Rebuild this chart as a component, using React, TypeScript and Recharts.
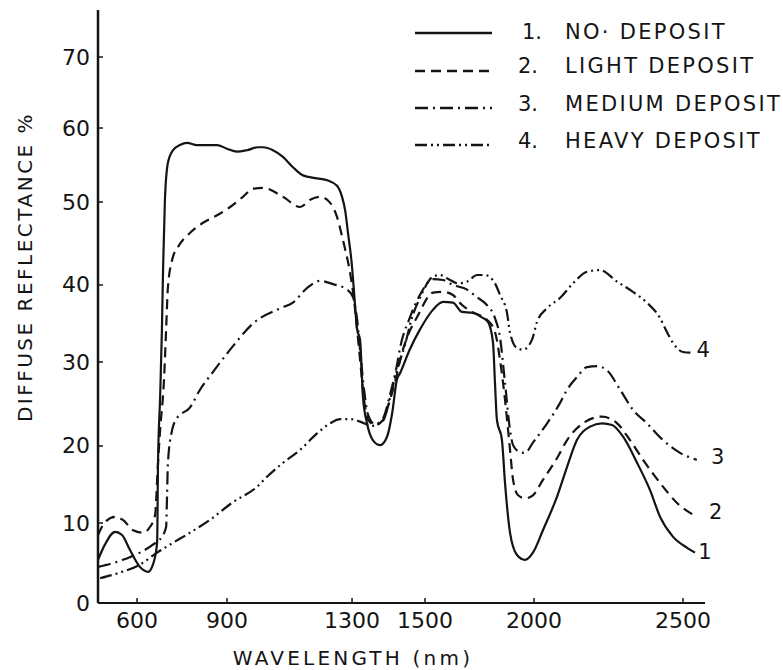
import React from "react";
import { LineChart, Line, XAxis, YAxis, Legend, ReferenceDot } from "recharts";

// [wavelength nm, diffuse reflectance %]
const noDeposit: [number, number][] = [
  [470, 5.4], [493, 7.3], [527, 8.9], [550, 8.5], [577, 6.6], [610, 4.5], [637, 3.9], [653, 4.8],
  [667, 7.5], [670, 17.8], [677, 25.8], [683, 34.2], [687, 42.2], [693, 50.3], [703, 55.3], [720, 57.0],
  [743, 57.7], [767, 58.0], [800, 57.7], [833, 57.7], [867, 57.7], [900, 57.2], [932, 56.8], [964, 57.0],
  [999, 57.4], [1016, 57.4], [1047, 57.0], [1079, 56.1], [1111, 54.7], [1143, 53.6], [1188, 53.2],
  [1223, 52.9], [1252, 52.2], [1268, 50.7], [1278, 49.0], [1287, 46.3], [1300, 42.2], [1305, 39.4],
  [1314, 34.2], [1322, 32.9], [1330, 25.8], [1341, 22.7], [1357, 20.7], [1377, 20.1], [1396, 21.1],
  [1410, 23.9], [1423, 27.9], [1432, 28.7], [1458, 31.6], [1486, 34.2], [1537, 36.8], [1583, 37.8],
  [1628, 37.7], [1670, 36.5], [1716, 36.4], [1761, 35.8], [1789, 35.2], [1812, 32.5], [1821, 27.5],
  [1830, 23.1], [1853, 20.7], [1867, 15.2], [1890, 8.8], [1922, 6.0], [1959, 5.4], [1995, 6.3],
  [2030, 9.1], [2077, 13.4], [2111, 17.3], [2144, 20.7], [2188, 22.3], [2228, 22.7], [2262, 22.5],
  [2299, 21.1], [2346, 17.8], [2389, 14.3], [2423, 10.8], [2466, 8.3], [2514, 6.9], [2541, 6.3],
];

const lightDeposit: [number, number][] = [
  [470, 8.5], [493, 10.1], [527, 10.8], [553, 10.4], [587, 9.1], [620, 8.8], [643, 9.5], [660, 11.0],
  [670, 17.8], [677, 21.9], [690, 27.9], [697, 34.2], [703, 39.7], [717, 43.0], [737, 44.6], [777, 46.3],
  [820, 47.5], [867, 48.4], [910, 49.4], [951, 50.7], [983, 51.8], [1016, 51.9], [1079, 50.7],
  [1134, 49.4], [1166, 50.3], [1198, 50.7], [1230, 49.9], [1252, 48.2], [1271, 45.4], [1294, 41.4],
  [1303, 39.0], [1314, 34.2], [1322, 30.3], [1333, 25.5], [1344, 23.1], [1363, 22.5], [1385, 23.1],
  [1404, 25.5], [1423, 28.5], [1432, 30.3], [1451, 33.2], [1478, 35.8], [1537, 39.0], [1583, 39.1],
  [1628, 38.7], [1670, 37.4], [1716, 36.5], [1784, 35.5], [1821, 33.9], [1844, 30.3], [1867, 25.5],
  [1890, 19.5], [1904, 15.6], [1927, 13.6], [1959, 13.2], [1995, 13.6], [2030, 15.6], [2077, 18.4],
  [2111, 20.7], [2164, 22.7], [2228, 23.5], [2279, 22.7], [2322, 20.7], [2366, 18.2], [2423, 15.2],
  [2480, 12.6], [2547, 10.8],
];

const mediumDeposit: [number, number][] = [
  [470, 4.5], [553, 5.4], [610, 6.3], [653, 7.3], [683, 8.3], [697, 9.5], [700, 13.4], [703, 17.8],
  [717, 21.9], [733, 23.3], [777, 24.6], [810, 26.7], [853, 28.8], [910, 31.6], [986, 35.1],
  [1072, 37.0], [1111, 37.7], [1156, 39.6], [1198, 40.5], [1239, 40.1], [1284, 39.4], [1303, 38.4],
  [1314, 35.5], [1322, 31.6], [1333, 26.7], [1344, 23.7], [1363, 22.6], [1385, 23.3], [1404, 26.1],
  [1423, 29.6], [1432, 31.9], [1458, 35.7], [1486, 38.7], [1537, 40.7], [1583, 40.6], [1628, 40.0],
  [1693, 39.4], [1739, 38.4], [1784, 37.4], [1821, 35.7], [1844, 33.2], [1867, 27.5], [1890, 21.9],
  [1904, 20.1], [1936, 19.2], [1959, 19.1], [1995, 20.4], [2044, 22.7], [2087, 25.1], [2111, 26.7],
  [2144, 28.2], [2178, 29.4], [2211, 29.5], [2245, 29.0], [2289, 26.7], [2332, 24.3], [2379, 22.7],
  [2433, 20.7], [2490, 19.1], [2547, 18.2],
];

const heavyDeposit: [number, number][] = [
  [477, 3.1], [543, 3.8], [610, 4.8], [667, 6.3], [710, 7.3], [777, 8.8], [843, 10.4], [919, 12.7],
  [996, 14.7], [1028, 16.0], [1079, 17.8], [1134, 19.5], [1188, 21.5], [1230, 22.7], [1262, 23.2],
  [1294, 23.2], [1322, 22.9], [1355, 22.4], [1385, 23.0], [1404, 25.7], [1423, 29.0], [1445, 32.2],
  [1464, 35.7], [1486, 38.3], [1537, 41.0], [1569, 41.2], [1615, 40.6], [1651, 40.2], [1693, 40.4],
  [1739, 41.2], [1775, 41.2], [1821, 40.2], [1844, 38.7], [1876, 36.4], [1890, 33.8], [1922, 31.8],
  [1950, 31.6], [1991, 32.9], [2010, 35.2], [2044, 37.0], [2087, 38.3], [2131, 40.2], [2178, 41.6],
  [2221, 41.8], [2279, 40.4], [2332, 39.1], [2379, 37.7], [2423, 35.7], [2446, 33.9], [2466, 32.5],
  [2500, 31.3], [2531, 31.2],
];

const wavelengthTicks = [600, 900, 1300, 1500, 2000, 2500];
const reflectanceTicks = [0, 10, 20, 30, 40, 50, 60, 70];

// the printed axes are not evenly divided, so map value -> fraction of axis length piecewise
const X_STOPS = [470, 600, 900, 1300, 1500, 2000, 2500, 2575];
const X_FRACS = [0, 0.0643, 0.2125, 0.4185, 0.5387, 0.7183, 0.9638, 1];
const Y_STOPS = [0, 10, 20, 30, 40, 50, 60, 70, 76.6];
const Y_FRACS = [0, 0.1349, 0.2648, 0.4064, 0.5363, 0.6762, 0.801, 0.9207, 1];

const INK = "#141414";
const FONT = '"DejaVu Sans", Verdana, sans-serif';

function interp(v: number, from: number[], to: number[]) {
  let i = 0;
  while (i < from.length - 2 && v > from[i + 1]) i++;
  const t = (v - from[i]) / (from[i + 1] - from[i]);
  return to[i] + t * (to[i + 1] - to[i]);
}

// minimal d3-like scale so recharts can use it
function piecewiseScale(stops: number[], fracs: number[]): any {
  let dom = [stops[0], stops[stops.length - 1]];
  let rng = [0, 1];
  const scale: any = (v: number) => rng[0] + interp(v, stops, fracs) * (rng[1] - rng[0]);
  scale.domain = (d?: number[]) => {
    if (d === undefined) return dom.slice();
    dom = d.slice();
    return scale;
  };
  scale.range = (r?: number[]) => {
    if (r === undefined) return rng.slice();
    rng = r.slice();
    return scale;
  };
  scale.invert = (px: number) => interp((px - rng[0]) / (rng[1] - rng[0]), fracs, stops);
  scale.ticks = () => stops.slice(1, -1);
  scale.copy = () => piecewiseScale(stops, fracs).domain(dom).range(rng);
  return scale;
}

const xScale = piecewiseScale(X_STOPS, X_FRACS);
const yScale = piecewiseScale(Y_STOPS, Y_FRACS);

const SERIES = [
  { num: "1.", name: "NO· DEPOSIT", points: noDeposit, dash: undefined, end: "1", dx: 10, dy: -1 },
  { num: "2.", name: "LIGHT DEPOSIT", points: lightDeposit, dash: "10 6", end: "2", dx: 19, dy: -5 },
  { num: "3.", name: "MEDIUM DEPOSIT", points: mediumDeposit, dash: "13 5 2 5", end: "3", dx: 21, dy: -3 },
  { num: "4.", name: "HEAVY DEPOSIT", points: heavyDeposit, dash: "12 4 2 4 2 4", end: "4", dx: 11, dy: -3 },
];

const toRows = (pts: [number, number][]) => pts.map(([nm, pct]) => ({ nm, pct }));

function YTick(props: any) {
  const { x, y, payload } = props;
  return (
    <g>
      <line x1={x} x2={x + 5} y1={y} y2={y} stroke={INK} strokeWidth={1.5} />
      <text x={x - 8} y={y} textAnchor="end" dominantBaseline="central" fontSize={22} fontFamily={FONT} fill={INK}>
        {payload.value}
      </text>
    </g>
  );
}

function XTick(props: any) {
  const { x, y, payload } = props;
  return (
    <g>
      <line x1={x} x2={x} y1={y} y2={y - 5} stroke={INK} strokeWidth={1.5} />
      <text x={x} y={y + 25} textAnchor="middle" fontSize={22} fontFamily={FONT} fill={INK}>
        {payload.value}
      </text>
    </g>
  );
}

const LEGEND_LINE_Y = [33, 71, 108, 145];
const LEGEND_TEXT_Y = [39, 73, 111, 148];

function LegendBox() {
  return (
    <svg width={383} height={170}>
      {SERIES.map((s, i) => (
        <g key={s.name}>
          <line x1={15} x2={92} y1={LEGEND_LINE_Y[i]} y2={LEGEND_LINE_Y[i]} stroke={INK} strokeWidth={2.4} strokeDasharray={s.dash} />
          <text x={i === 0 ? 122 : 118} y={LEGEND_TEXT_Y[i]} fontSize={21} fontFamily={FONT} fill={INK}>
            {s.num}
          </text>
          <text x={165} y={LEGEND_TEXT_Y[i]} fontSize={21} letterSpacing={2.3} fontFamily={FONT} fill={INK}>
            {s.name}
          </text>
        </g>
      ))}
    </svg>
  );
}

export default function App() {
  return (
    <div style={{ position: "absolute", left: 0, top: 0, background: "#fff" }}>
      <LineChart width={783} height={670} margin={{ top: 10, right: 78, bottom: 0, left: 0 }}>
        <XAxis
          type="number"
          dataKey="nm"
          domain={[470, 2575]}
          allowDataOverflow
          scale={xScale}
          ticks={wavelengthTicks}
          interval={0}
          tick={<XTick />}
          tickLine={false}
          tickSize={0}
          tickMargin={0}
          height={67}
          axisLine={{ stroke: INK, strokeWidth: 2 }}
          label={{
            content: (p: any) => (
              <text
                x={p.viewBox.x + 255}
                y={p.viewBox.y + 62}
                textAnchor="middle"
                fontSize={20}
                letterSpacing={3.2}
                fontFamily={FONT}
                fill={INK}
              >
                WAVELENGTH (nm)
              </text>
            ),
          }}
        />
        <YAxis
          type="number"
          dataKey="pct"
          domain={[0, 76.6]}
          allowDataOverflow
          scale={yScale}
          ticks={reflectanceTicks}
          interval={0}
          tick={<YTick />}
          tickLine={false}
          tickSize={0}
          tickMargin={0}
          width={98}
          axisLine={{ stroke: INK, strokeWidth: 2.5 }}
          label={{
            content: (p: any) => {
              const cx = p.viewBox.x + 25;
              const cy = p.viewBox.y + 257;
              return (
                <text
                  x={cx}
                  y={cy}
                  transform={`rotate(-90 ${cx} ${cy})`}
                  textAnchor="middle"
                  dominantBaseline="central"
                  fontSize={20}
                  letterSpacing={2.5}
                  fontFamily={FONT}
                  fill={INK}
                >
                  DIFFUSE REFLECTANCE %
                </text>
              );
            },
          }}
        />
        <Legend
          layout="vertical"
          align="center"
          verticalAlign="middle"
          wrapperStyle={{ left: 400, top: 0, width: 383, height: 170 }}
          content={() => <LegendBox />}
        />
        {SERIES.map((s) => (
          <Line
            key={s.name}
            data={toRows(s.points)}
            dataKey="pct"
            name={s.name}
            type="monotone"
            stroke={INK}
            strokeWidth={2.2}
            strokeDasharray={s.dash}
            dot={false}
            activeDot={false}
            isAnimationActive={false}
          />
        ))}
        {SERIES.map((s) => {
          const last = s.points[s.points.length - 1];
          return (
            <ReferenceDot
              key={"end-" + s.end}
              x={last[0]}
              y={last[1]}
              r={0}
              shape={(p: any) => (
                <text
                  x={p.cx + s.dx}
                  y={p.cy + s.dy}
                  textAnchor="middle"
                  dominantBaseline="central"
                  fontSize={21}
                  fontFamily={FONT}
                  fill={INK}
                >
                  {s.end}
                </text>
              )}
            />
          );
        })}
      </LineChart>
    </div>
  );
}
